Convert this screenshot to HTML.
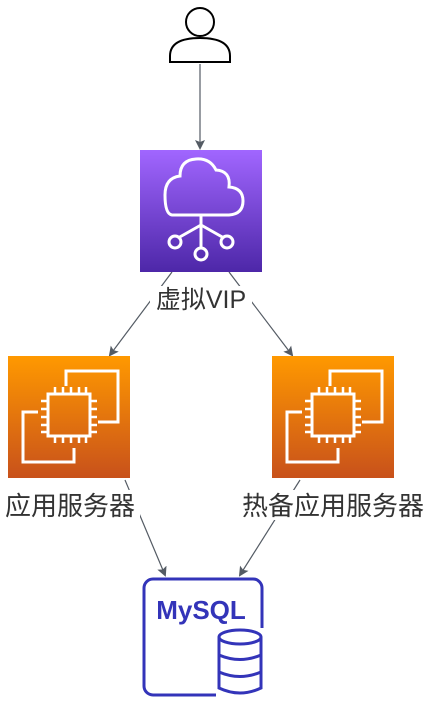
<!DOCTYPE html>
<html><head><meta charset="utf-8"><style>
body{margin:0;background:#fff;width:435px;height:699px;overflow:hidden;font-family:"Liberation Sans","Noto Sans CJK SC",sans-serif}
</style></head><body>
<svg width="435" height="699" viewBox="0 0 435 699">
<defs>
<linearGradient id="p" x1="0" y1="1" x2="0" y2="0"><stop offset="0" stop-color="#4d27a8"/><stop offset="1" stop-color="#a166ff"/></linearGradient>
<linearGradient id="o" x1="0" y1="1" x2="0" y2="0"><stop offset="0" stop-color="#c8511b"/><stop offset="1" stop-color="#ff9900"/></linearGradient>
<marker id="a" markerWidth="10" markerHeight="10" refX="8" refY="5" orient="auto" markerUnits="userSpaceOnUse"><path d="M0,0 L10,5 L0,10 L2,5z" fill="#545b64"/></marker>
<g id="ec2">
<rect width="122" height="122" fill="url(#o)"/>
<path d="M58,30 V15 H110 V66 H90" fill="none" stroke="#fff" stroke-width="3"/>
<path d="M66,92 V106 H15 V56 H30" fill="none" stroke="#fff" stroke-width="3"/>
<rect x="40" y="38" width="42" height="42" fill="none" stroke="#fff" stroke-width="3"/>
<g stroke="#fff" stroke-width="2.5">
<path d="M47,38v-7M55,38v-7M63,38v-7M71,38v-7M78,38v-7M47,80v7M55,80v7M63,80v7M71,80v7M78,80v7M40,45h-7M40,53h-7M40,61h-7M40,69h-7M40,76h-7M82,45h7M82,53h7M82,61h7M82,69h7M82,76h7"/>
</g>
</g>
</defs>
<g fill="none" stroke="#000" stroke-width="2">
<circle cx="200" cy="22" r="14"/>
<path d="M170,62 V56 Q170,38 200,38 Q230,38 230,56 V62 Z"/>
</g>
<g stroke="#545b64" stroke-width="1.2" marker-end="url(#a)">
<line x1="200" y1="64" x2="200" y2="148"/>
<line x1="172" y1="272" x2="110" y2="355"/>
<line x1="229" y1="272" x2="292" y2="355"/>
<line x1="125" y1="480" x2="165" y2="575"/>
<line x1="300" y1="480" x2="240" y2="575"/>
</g>
<rect x="140" y="150" width="122" height="122" fill="url(#p)"/>
<g fill="none" stroke="#fff" stroke-width="3">
<path d="M172,215 H229 Q243,214 243,201 Q243,188 229,187 Q231,171 216,170 Q210,158 196,159 Q180,160 180,176 Q165,178 165,195 Q165,214 172,215Z"/>
<path d="M201,215 V248 M201,225 L178,238 M201,225 L224,238"/>
<circle cx="201" cy="254" r="6"/><circle cx="175" cy="242" r="6"/><circle cx="227" cy="242" r="6"/>
</g>
<rect x="150" y="286" width="102" height="28" fill="#fff"/>
<text x="201" y="308" font-size="25" text-anchor="middle" fill="#333">虚拟VIP</text>
<use href="#ec2" x="8" y="356"/>
<use href="#ec2" x="272" y="356"/>
<rect x="0" y="490" width="140" height="30" fill="#fff"/>
<rect x="236" y="490" width="196" height="30" fill="#fff"/>
<text x="70" y="515" font-size="26" text-anchor="middle" fill="#333">应用服务器</text>
<text x="333" y="515" font-size="26" text-anchor="middle" fill="#333">热备应用服务器</text>
<rect x="144" y="579" width="118" height="116" rx="9" fill="none" stroke="#3334b9" stroke-width="3"/>
<text x="201" y="619" font-size="26" font-weight="bold" text-anchor="middle" fill="#3334b9">MySQL</text>
<rect x="216" y="628" width="50" height="71" fill="#fff"/>
<g fill="none" stroke="#3334b9" stroke-width="3">
<ellipse cx="240" cy="637" rx="21" ry="7"/>
<path d="M219,637 V688 Q240,698 261,688 V637 M219,655 Q240,664 261,655 M219,672 Q240,681 261,672"/>
</g>
</svg>
</body></html>
